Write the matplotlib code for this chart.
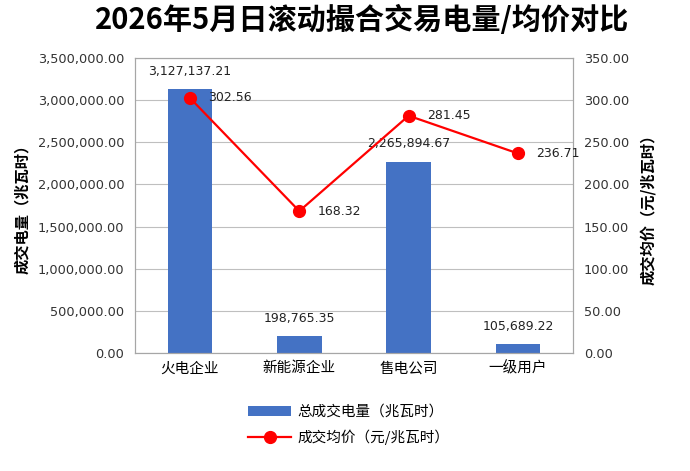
import matplotlib.pyplot as plt
from matplotlib.ticker import FuncFormatter, MultipleLocator

plt.rcParams["font.family"] = ["DejaVu Sans", "Noto Sans CJK SC"]

categories = ["火电企业", "新能源企业", "售电公司", "一级用户"]
volumes = [3127137.21, 198765.35, 2265894.67, 105689.22]
prices = [302.56, 168.32, 281.45, 236.71]

CJK = ["Noto Sans CJK SC", "DejaVu Sans"]

fig = plt.figure(figsize=(6.9, 4.71), dpi=100)
ax = fig.add_axes([0.196, 0.2505, 0.634, 0.6265])
ax2 = ax.twinx()

x = list(range(len(categories)))
bars = ax.bar(x, volumes, width=0.41, color="#4472C4", zorder=2,
              label="总成交电量（兆瓦时）")
ax.set_xlim(-0.5, len(categories) - 0.5)
ax.set_ylim(0, 3500000)
ax.yaxis.set_major_locator(MultipleLocator(500000))
ax.yaxis.set_major_formatter(FuncFormatter(lambda v, p: f"{v:,.2f}"))
ax.grid(axis="y", color="#BFBFBF", linewidth=0.8, zorder=0)
ax.set_xticks(x)
ax.set_xticklabels(categories, family=CJK, fontsize=10.5)
ax.tick_params(axis="x", length=0, pad=6)
ax.tick_params(axis="y", length=0, labelsize=9.3, colors="#333333", pad=8)
for v, xi in zip(volumes, x):
    ax.annotate(f"{v:,.2f}", (xi, v), xytext=(0, 13), textcoords="offset points",
                ha="center", va="center", fontsize=9, color="#222222")

line, = ax2.plot(x, prices, color="#FF0000", linewidth=1.6, marker="o",
                 markersize=8.5, zorder=3, label="成交均价（元/兆瓦时）")
ax2.set_ylim(0, 350)
ax2.yaxis.set_major_locator(MultipleLocator(50))
ax2.yaxis.set_major_formatter(FuncFormatter(lambda v, p: f"{v:.2f}"))
ax2.tick_params(axis="y", length=0, labelsize=9.3, colors="#333333", pad=8)
for p, xi in zip(prices, x):
    ax2.annotate(f"{p:.2f}", (xi, p), xytext=(13, 0), textcoords="offset points",
                 ha="left", va="center", fontsize=9, color="#222222")

for a in (ax, ax2):
    for s in a.spines.values():
        s.set_color("#A6A6A6")

ax.set_ylabel("成交电量（兆瓦时）", family=CJK, fontsize=11, fontweight="bold", labelpad=5)
ax2.set_ylabel("成交均价（元/兆瓦时）", family=CJK, fontsize=11, fontweight="bold", labelpad=8)

fig.text(0.525, 0.958, "2026年5月日滚动撮合交易电量/均价对比", family=CJK,
         fontsize=21, fontweight="bold", ha="center", va="center")

fig.legend([bars, line], ["总成交电量（兆瓦时）", "成交均价（元/兆瓦时）"],
           loc="center", bbox_to_anchor=(0.505, 0.098), ncol=1, frameon=False,
           prop={"family": CJK, "size": 10.5}, handlelength=3, handletextpad=0.4,
           labelspacing=0.7)

fig.savefig("out.png", dpi=100)
